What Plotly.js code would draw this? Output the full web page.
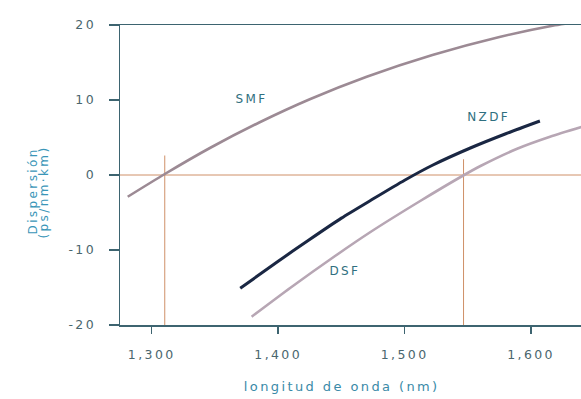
<!DOCTYPE html>
<html>
<head>
<meta charset="utf-8">
<script src="https://cdn.plot.ly/plotly-3.0.1.min.js"></script>
<style>
html, body { margin: 0; padding: 0; background: #ffffff; }
#chart { width: 581px; height: 399px; }
.main-svg text { letter-spacing: 2.4px; }
</style>
</head>
<body>
<div id="chart"></div>
<script>
// Wavelength (nm) and dispersion (ps/nm·km)
const smfX  = [1281, 1310, 1346, 1385, 1425, 1470, 1522, 1575, 1617, 1640];
const smfY  = [-2.9, 0.1, 3.6, 7.0, 10.1, 13.1, 16.0, 18.4, 19.9, 20.5];
const nzdfX = [1370, 1400, 1424, 1450, 1473, 1500, 1522, 1552, 1580, 1607];
const nzdfY = [-15.1, -11.5, -8.7, -5.75, -3.4, -0.7, 1.3, 3.6, 5.5, 7.2];
const dsfX  = [1379, 1410, 1445, 1473, 1512, 1546, 1560, 1589, 1615, 1640];
const dsfY  = [-18.9, -15.0, -10.8, -7.6, -3.5, -0.1, 1.2, 3.5, 5.1, 6.4];

// Reference guide lines (zero-dispersion wavelengths)
const zeroLineX = [1274.9, 1640];
const zeroLineY = [0, 0];
const smfZeroX  = [1310.3, 1310.3];
const smfZeroY  = [2.6, -20];
const dsfZeroX  = [1546.6, 1546.6];
const dsfZeroY  = [2.1, -20];

// Curve labels
const labelText = ["SMF", "NZDF", "DSF"];
const labelX = [1379, 1566, 1453];
const labelY = [10.2, 7.8, -12.8];

// Axis titles
const yTitleLines = ["Dispersión", "(ps/nm·km)"];
const xTitle = "longitud de onda (nm)";

// Axis ticks
const xTicks = [1300, 1400, 1500, 1600];
const yTicks = [-20, -10, 0, 10, 20];
const yTickText = ["-20", "-10", "0", "10", "20"];

const guideColor = '#cf9068';
const traces = [
  {x: zeroLineX, y: zeroLineY, mode: 'lines', line: {color: guideColor, width: 1}, hoverinfo: 'skip'},
  {x: smfZeroX, y: smfZeroY, mode: 'lines', line: {color: guideColor, width: 1}, hoverinfo: 'skip'},
  {x: dsfZeroX, y: dsfZeroY, mode: 'lines', line: {color: guideColor, width: 1}, hoverinfo: 'skip'},
  {x: smfX, y: smfY, mode: 'lines', name: 'SMF', line: {color: '#9c8a94', width: 2.6, shape: 'spline', smoothing: 0.7}},
  {x: dsfX, y: dsfY, mode: 'lines', name: 'DSF', line: {color: '#b7a6b4', width: 2.6, shape: 'spline', smoothing: 0.7}},
  {x: nzdfX, y: nzdfY, mode: 'lines', name: 'NZDF', line: {color: '#1a2743', width: 3, shape: 'spline', smoothing: 0.7}}
];

const labelFont = {family: 'DejaVu Sans', size: 12, color: '#2f6f80'};
const annotations = labelText.map((t, i) => ({
  x: labelX[i], y: labelY[i], xref: 'x', yref: 'y', text: t, showarrow: false,
  xanchor: 'center', yanchor: 'middle', font: labelFont
}));
const yTitleX = [-0.1887, -0.1627];
yTitleLines.forEach((t, i) => annotations.push({
  x: yTitleX[i], y: 0.445, xref: 'paper', yref: 'paper', text: t,
  showarrow: false, textangle: -90, xanchor: 'center', yanchor: 'middle',
  font: {family: 'DejaVu Sans', size: 12, color: '#3a96b8'}
}));
annotations.push({
  x: 0.4805, y: -0.205, xref: 'paper', yref: 'paper', text: xTitle,
  showarrow: false, xanchor: 'center', yanchor: 'middle',
  font: {family: 'DejaVu Sans', size: 13, color: '#3a8aa8'}
});

const layout = {
  width: 581, height: 399,
  margin: {l: 120, r: 0, t: 25, b: 74, pad: 0},
  paper_bgcolor: '#ffffff', plot_bgcolor: '#ffffff',
  showlegend: false,
  font: {family: 'DejaVu Sans', size: 12, color: '#46666f'},
  xaxis: {
    range: [1274.9, 1639.5], tickvals: xTicks, tickformat: ',d',
    showgrid: false, zeroline: false, showline: true, mirror: true,
    linecolor: '#3d6470', linewidth: 1.5,
    ticks: 'outside', ticklen: 7, tickcolor: '#3d6470', tickwidth: 1.5,
    ticklabelstandoff: 10,
    tickfont: {family: 'DejaVu Sans', size: 12.5, color: '#4a666e'}
  },
  yaxis: {
    range: [-20, 20], tickvals: yTicks, ticktext: yTickText,
    showgrid: false, zeroline: false, showline: true, mirror: false,
    linecolor: '#3d6470', linewidth: 1.5,
    ticks: 'outside', ticklen: 10, tickcolor: '#3d6470', tickwidth: 1.5,
    ticklabelstandoff: 10,
    tickfont: {family: 'DejaVu Sans', size: 12.5, color: '#4a666e'}
  },
  annotations: annotations
};

Plotly.newPlot('chart', traces, layout, {displayModeBar: false, staticPlot: true});
</script>
</body>
</html>
